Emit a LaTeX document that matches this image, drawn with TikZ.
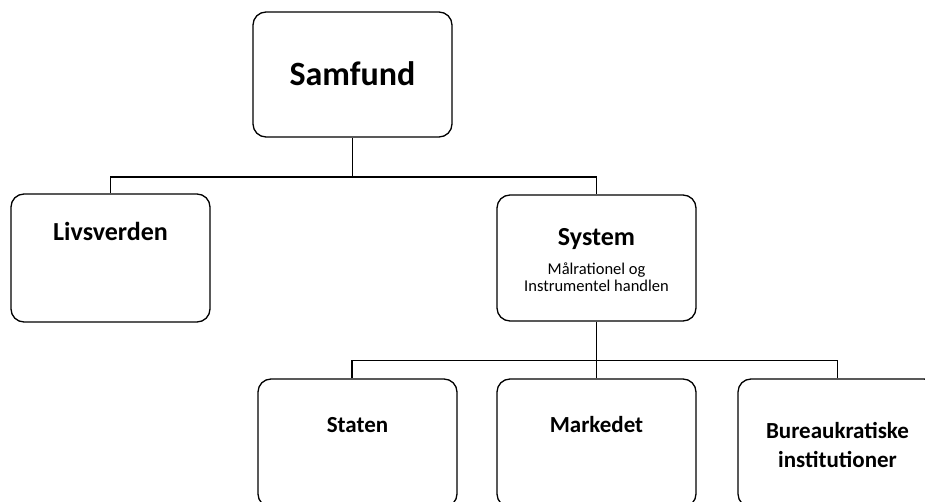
\documentclass[tikz,border=0pt]{standalone}
\usepackage{fontspec}
\setmainfont{Carlito}
\begin{document}
\begin{tikzpicture}[x=1pt,y=-1pt,
  box/.style={draw=black, line width=1.3pt, rounded corners=13pt,
    minimum width=199pt, inner sep=0pt},
  link/.style={draw=black, line width=1.3pt},
  title/.style={anchor=base, inner sep=0pt, font=\bfseries\fontsize{#1}{#1}\selectfont},
  note/.style={anchor=base, inner sep=0pt, font=\fontsize{16.5}{15.5}\selectfont}]
\useasboundingbox (0,0) rectangle (925,502);
\clip (0,0) rectangle (925,502);

% boxes
\node[box, minimum height=125pt] (samfund) at (352.5,74.5) {};
\node[box, minimum height=128pt] (livsverden) at (110.5,258) {};
\node[box, minimum height=126pt] (system) at (596.5,258) {};
\node[box, minimum height=128pt] (staten) at (357.5,443) {};
\node[box, minimum height=128pt] (markedet) at (596.5,443) {};
\node[box, minimum height=128pt] (bureau) at (837.5,443) {};

% texts
\node[title=34] (samfundtxt) at (352.5,86) {Samfund};
\node[title=26] (livsverdentxt) at (110.5,241) {Livsverden};
\node[title=26] (systemtxt) at (596.5,246) {System};
\node[note] (systemnote) at (596.5,275)
  {\begin{tabular}[t]{@{}c@{}}Målrationel og\\Instrumentel handlen\end{tabular}};
\node[title=23] (statentxt) at (357.5,432) {Staten};
\node[title=23] (markedettxt) at (596.5,432) {Markedet};
\node[anchor=base, inner sep=0pt, font=\bfseries\fontsize{23}{29}\selectfont] (bureautxt) at (837.5,438)
  {\begin{tabular}[t]{@{}c@{}}Bureaukratiske\\institutioner\end{tabular}};

% connectors
\coordinate (busA) at (352.5,177);
\coordinate (busB) at (596.5,360.5);
\draw[link] (samfund.south) -- (busA);
\draw[link] (livsverden.north) |- (busA) -| (system.north);
\draw[link] (system.south) -- (markedet.north);
\draw[link] ([xshift=-5.5pt]staten.north) |- (busB) -| (bureau.north);
\end{tikzpicture}
\end{document}
